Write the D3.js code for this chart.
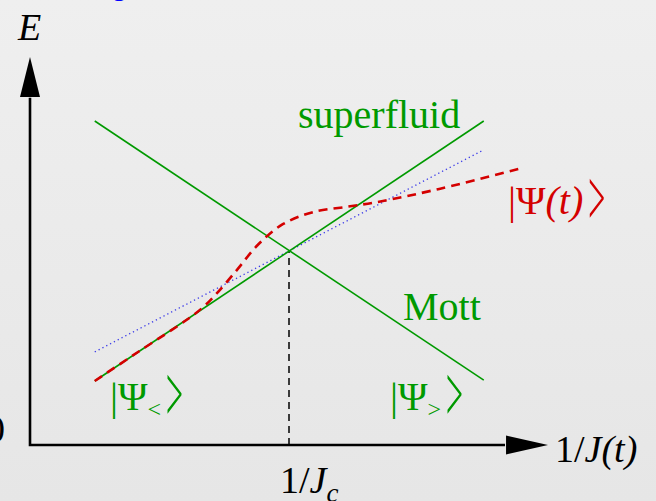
<!DOCTYPE html>
<html>
<head>
<meta charset="utf-8">
<script src="https://cdn.jsdelivr.net/npm/d3@7"></script>
<style>
  html, body { margin: 0; padding: 0; overflow: hidden; }
  svg { display: block; }
  text { font-family: "Liberation Serif", "DejaVu Serif", serif; }
</style>
</head>
<body>
<svg id="chart" width="656" height="501"></svg>
<script>
// Schematic energies versus 1/J: ground-state branches cross at 1/J_c.
const crossing = [50, 50];
const superfluidLine = [[12.5, 16.5], [87.6, 83.5]];
const mottLine = [[12.5, 83.5], [87.6, 16.7]];
const adiabaticLine = [[12.5, 24.0], [87.5, 76.0]];
const evolvedState = [
  [12.5, 16.5], [21.0, 24.1], [30.2, 32.2], [33.4, 35.5], [36.0, 39.0], [40.0, 45.2],
  [44.0, 51.6], [48.8, 56.9], [54.6, 60.0], [61.2, 61.4], [67.4, 62.7], [79.0, 66.0], [95.0, 71.4]
];

const svg = d3.select("#chart");
const W = 656, H = 501;

// soft grey backdrop
const defs = svg.append("defs");
const grad = defs.append("linearGradient").attr("id", "bg").attr("x1", 0).attr("y1", 0).attr("x2", 0).attr("y2", 1);
grad.append("stop").attr("offset", "0%").attr("stop-color", "#efefef");
grad.append("stop").attr("offset", "100%").attr("stop-color", "#e6e6e6");
svg.append("rect").attr("width", W).attr("height", H).attr("fill", "url(#bg)");

const x = d3.scaleLinear().domain([0, 100]).range([30, 548]);
const y = d3.scaleLinear().domain([0, 100]).range([445, 57]);
const line = d3.line().x(d => x(d[0])).y(d => y(d[1]));

const green = "#009a00", red = "#d40000";

// axes with arrowheads
svg.append("path")
  .attr("d", line([[0, 89.5], [0, 0], [91.7, 0]]))
  .attr("fill", "none").attr("stroke", "#000").attr("stroke-width", 2.6);
svg.append("path")
  .attr("d", `M${x(0)},${y(100)} L${x(0) - 10},${y(89.7)} L${x(0) + 10},${y(89.7)} Z`)
  .attr("fill", "#000");
svg.append("path")
  .attr("d", `M${x(100)},${y(0)} L${x(91.9)},${y(0) - 9.5} L${x(91.9)},${y(0) + 9.5} Z`)
  .attr("fill", "#000");

// critical point marker
svg.append("path")
  .attr("d", line([[crossing[0], 0], crossing]))
  .attr("fill", "none").attr("stroke", "#000").attr("stroke-width", 1.5)
  .attr("stroke-dasharray", "7,5");

// adiabatic reference
svg.append("path")
  .attr("d", line(adiabaticLine))
  .attr("fill", "none").attr("stroke", "#3a3ae8").attr("stroke-width", 1.3)
  .attr("stroke-dasharray", "1.3,3");

// level lines
[superfluidLine, mottLine].forEach(seg => {
  svg.append("path")
    .attr("d", line(seg))
    .attr("fill", "none").attr("stroke", green).attr("stroke-width", 1.6);
});

// evolved state
svg.append("path")
  .attr("d", d3.line().x(d => x(d[0])).y(d => y(d[1])).curve(d3.curveCatmullRom.alpha(0.5))(evolvedState))
  .attr("fill", "none").attr("stroke", red).attr("stroke-width", 2.6)
  .attr("stroke-dasharray", "9,6");

// labels
const fs = 38;
svg.append("text").attr("x", 18).attr("y", 40).attr("font-size", fs).attr("font-style", "italic").text("E");
svg.append("text").attr("x", 5).attr("y", 442).attr("font-size", fs).attr("text-anchor", "end").text("0");
svg.append("text").attr("x", 119).attr("y", 1).attr("font-size", fs).attr("text-anchor", "middle").attr("fill", "#0000ff").text("o");

const xl = svg.append("text").attr("x", 555).attr("y", 462).attr("font-size", fs);
xl.append("tspan").text("1/");
xl.append("tspan").attr("font-style", "italic").text("J(t)");

const jc = svg.append("text").attr("x", x(crossing[0]) - 9).attr("y", 493).attr("font-size", fs).attr("text-anchor", "start");
jc.append("tspan").text("1/");
jc.append("tspan").attr("font-style", "italic").text("J");
jc.append("tspan").attr("font-style", "italic").attr("font-size", 27).attr("dy", 9).text("c");

svg.append("text").attr("x", 298).attr("y", 128).attr("font-size", 40).attr("fill", green).text("superfluid");
svg.append("text").attr("x", 403).attr("y", 320).attr("font-size", 40).attr("fill", green).text("Mott");

// ket labels: bar + Psi + subscript, closed by a tall, narrow angle bracket
function ket(x0, y0, sub, color, italicSub) {
  const t = svg.append("text").attr("x", x0).attr("y", y0).attr("font-size", 40).attr("fill", color);
  t.append("tspan").text("|Ψ");
  const s = t.append("tspan").text(sub);
  if (italicSub) s.attr("font-style", "italic");
  else s.attr("font-size", 24).attr("dy", 7);
  const bb = t.node().getBBox();
  svg.append("text")
    .attr("transform", `translate(${bb.x + bb.width + 5},${y0 + 11}) scale(0.75,2.0)`)
    .attr("font-size", 40).attr("fill", color).text(">");
}
ket(110, 410, "<", green, false);
ket(390, 410, ">", green, false);
ket(508, 214, "(t)", red, true);
</script>
</body>
</html>
